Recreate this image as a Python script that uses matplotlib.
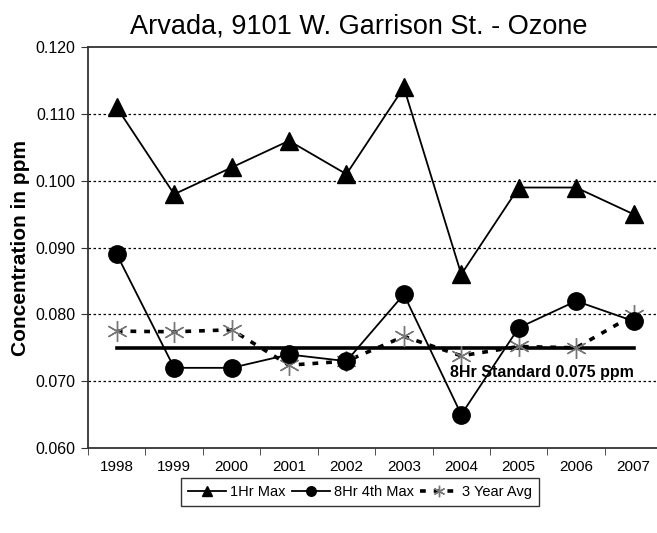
import numpy as np
import matplotlib
matplotlib.use("Agg")
import matplotlib.pyplot as plt

plt.rcParams['font.family'] = ['Liberation Sans', 'DejaVu Sans']

years = ['1998', '1999', '2000', '2001', '2002', '2003', '2004', '2005', '2006', '2007']
max_1hr = [0.111, 0.098, 0.102, 0.106, 0.101, 0.114, 0.086, 0.099, 0.099, 0.095]
max_8hr_4th = [0.089, 0.072, 0.072, 0.074, 0.073, 0.083, 0.065, 0.078, 0.082, 0.079]
avg_3yr = [0.0775, 0.0774, 0.0777, 0.0724, 0.0730, 0.0767, 0.0738, 0.0752, 0.0750, 0.0799]
standard_8hr = 0.075
yticks = [0.060, 0.070, 0.080, 0.090, 0.100, 0.110, 0.120]

fig = plt.figure(figsize=(6.57, 5.33), dpi=100)
ax = fig.add_axes([0.134, 0.1595, 0.874, 0.7518])

# category axis with ticks on the boundaries
n = len(years)
x = np.arange(n)
ax.set_xlim(-0.5, n - 0.5)
ax.set_xticks(x)
ax.set_xticklabels(years, fontsize=11)
ax.set_xticks(np.arange(n + 1) - 0.5, minor=True)
ax.tick_params(axis='x', which='major', length=0, pad=9)
ax.tick_params(axis='x', which='minor', length=5, color='#333333')

ax.set_ylim(0.060, 0.120)
ax.set_yticks(yticks)
ax.set_yticklabels(['%.3f' % v for v in yticks], fontsize=11.5)
ax.tick_params(axis='y', length=5, color='#333333', pad=4)
for v in yticks[1:-1]:
    ax.axhline(v, color='black', lw=0.9, ls=(0, (2, 2)), zorder=0)

ax.spines['right'].set_visible(False)
for s in ['left', 'top', 'bottom']:
    ax.spines[s].set_color('#333333')
    ax.spines[s].set_linewidth(1.3)

ax.set_ylabel('Concentration in ppm', fontsize=15, fontweight='bold', labelpad=4)
ax.set_title('Arvada, 9101 W. Garrison St. - Ozone', fontsize=19.5, pad=10, x=0.472)

ax.plot([x[0], x[-1]], [standard_8hr, standard_8hr], color='black', lw=2.6, zorder=2)
l3, = ax.plot(x, avg_3yr, color='black', lw=2.6, ls=(0, (1.6, 2.2)),
              marker=(6, 2, 0), markersize=15, markeredgecolor='#777777',
              markeredgewidth=1.0, label='3 Year Avg', zorder=3)
l1, = ax.plot(x, max_1hr, color='black', lw=1.3, marker='^', markersize=13,
              label='1Hr Max', zorder=4)
l8, = ax.plot(x, max_8hr_4th, color='black', lw=1.3, marker='o', markersize=12.5,
              label='8Hr 4th Max', zorder=4)

ax.text(x[-1], 0.0713, '8Hr Standard 0.075 ppm', ha='right', va='center',
        fontsize=11.5, fontweight='bold', zorder=5)

leg = fig.legend(handles=[l1, l8, l3], loc='center', bbox_to_anchor=(0.548, 0.077),
                 ncol=3, fontsize=10.5, frameon=True, fancybox=False,
                 handlelength=2.6, handletextpad=0.3, columnspacing=0.4,
                 borderpad=0.45, markerscale=0.55)
leg.get_frame().set_edgecolor('black')
leg.get_frame().set_linewidth(1.0)

fig.savefig('out.png', dpi=100)
